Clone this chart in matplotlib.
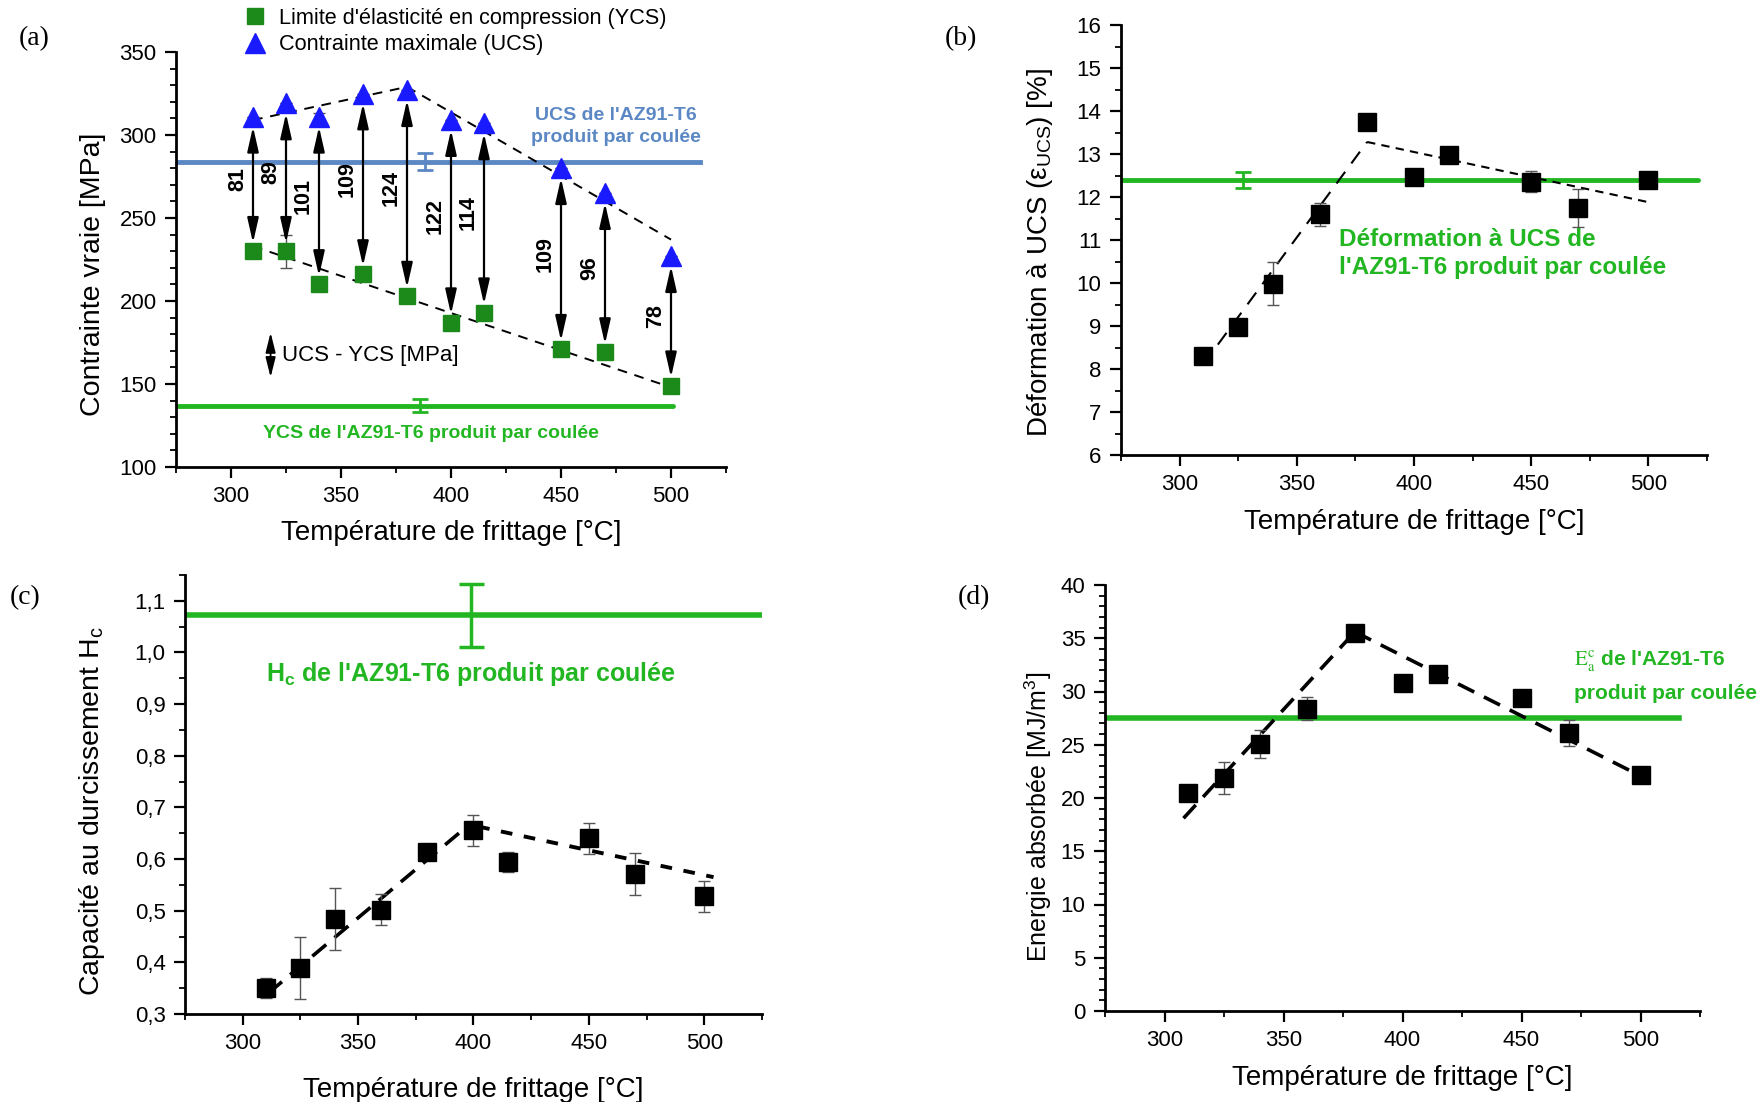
import matplotlib
matplotlib.use('Agg')
import matplotlib.pyplot as plt
from matplotlib.ticker import MultipleLocator, FuncFormatter

# ---------------- data ----------------
temps = [310, 325, 340, 360, 380, 400, 415, 450, 470, 500]

# (a) compression strengths
ucs = [311, 319, 311, 325, 327, 309, 307, 280, 265, 227]
ucs_err = [0, 0, 2, 0, 0, 0, 0, 0, 0, 0]
ycs = [230, 230, 210, 216, 203, 187, 193, 171, 169, 149]
ycs_err = [0, 10, 3, 0, 0, 0, 0, 0, 0, 0]
diff_labels = ['81', '89', '101', '109', '124', '122', '114', '109', '96', '78']
ucs_trend_x = [310, 380, 500]
ucs_trend_y = [309, 329, 237]
ycs_trend_x = [310, 500]
ycs_trend_y = [233, 148]
ucs_cast, ucs_cast_err, ucs_cast_x, ucs_cast_span = 284, 5, 388, [275, 513]
ycs_cast, ycs_cast_err, ycs_cast_x, ycs_cast_span = 137, 4, 386, [275, 501]

# (b) strain at UCS
strain = [8.3, 8.97, 9.98, 11.6, 13.75, 12.47, 12.97, 12.36, 11.74, 12.4]
strain_err = [0.05, 0.05, 0.5, 0.27, 0.05, 0.05, 0.05, 0.25, 0.44, 0.05]
strain_up_x, strain_up_y = [310, 380], [8.1, 13.28]
strain_down_x, strain_down_y = [380, 500], [13.28, 11.88]
strain_cast, strain_cast_err, strain_cast_x, strain_cast_span = 12.4, 0.19, 327, [275, 521]

# (c) hardening capacity
hc = [0.35, 0.39, 0.483, 0.502, 0.613, 0.656, 0.594, 0.640, 0.571, 0.528]
hc_err = [0.019, 0.06, 0.06, 0.03, 0.01, 0.03, 0.02, 0.03, 0.04, 0.03]
hc_up_x, hc_up_y = [311, 395], [0.34, 0.655]
hc_down_x, hc_down_y = [402, 504], [0.663, 0.565]
hc_cast, hc_cast_err, hc_cast_x, hc_cast_span = 1.072, 0.061, 399, [275, 525]

# (d) absorbed energy
energy = [20.5, 21.9, 25.1, 28.4, 35.45, 30.8, 31.65, 29.35, 26.1, 22.15]
energy_err = [0.2, 1.5, 1.33, 1.05, 0.2, 0.2, 0.2, 0.2, 1.2, 0.2]
en_up_x, en_up_y = [308, 380], [18.1, 35.6]
en_down_x, en_down_y = [380, 498], [35.6, 22.3]
en_cast, en_cast_span = 27.55, [275, 516]

# ---------------- style ----------------
NARROW = ['Liberation Sans Narrow', 'Liberation Sans', 'DejaVu Sans']
SANS = ['Liberation Sans', 'DejaVu Sans']
SERIF = ['Liberation Serif', 'DejaVu Serif']
plt.rcParams['font.family'] = NARROW
plt.rcParams['mathtext.fontset'] = 'custom'
plt.rcParams['mathtext.rm'] = 'Liberation Sans'
plt.rcParams['mathtext.it'] = 'Liberation Sans:italic'
plt.rcParams['mathtext.bf'] = 'Liberation Sans:bold'

GREEN = '#22b722'
DKGREEN = '#1b8a1b'
BLUE_LINE = '#5b88c4'
BLUE_TRI = '#1a1aff'

fig = plt.figure(figsize=(17.62, 11.02), dpi=100)
W, H = 1762, 1102


def axes_px(left, right, top, bottom):
    return fig.add_axes([left / W, 1 - bottom / H, (right - left) / W, (bottom - top) / H])


def style_axes(ax, ymaj, ymin, xpad):
    for s in ['top', 'right']:
        ax.spines[s].set_visible(False)
    for s in ['left', 'bottom']:
        ax.spines[s].set_linewidth(2.0)
    ax.set_xlim(275, 525)
    ax.xaxis.set_major_locator(MultipleLocator(50))
    ax.xaxis.set_minor_locator(MultipleLocator(25))
    ax.yaxis.set_major_locator(MultipleLocator(ymaj))
    ax.yaxis.set_minor_locator(MultipleLocator(ymin))
    ax.tick_params(which='major', direction='out', length=8, width=1.6, labelsize=16, pad=6)
    ax.tick_params(which='minor', direction='out', length=4, width=1.3)
    ax.set_xlabel('Température de frittage [°C]', fontsize=20, labelpad=xpad)


ARROW = '<|-|>,head_length=0.75,head_width=0.17'

# ---------------- (a) ----------------
axa = axes_px(176, 726, 52, 467)
style_axes(axa, 50, 10, 9)
axa.set_ylim(100, 350)
axa.set_ylabel('Contrainte vraie [MPa]', fontsize=20.5, family=SANS)
axa.yaxis.set_label_coords(-0.127, 0.465)

axa.plot(ucs_trend_x, ucs_trend_y, ls=(0, (5, 4)), color='black', lw=1.4, zorder=2)
axa.plot(ycs_trend_x, ycs_trend_y, ls=(0, (5, 4)), color='black', lw=1.4, zorder=2)

axa.plot(ucs_cast_span, [ucs_cast] * 2, color=BLUE_LINE, lw=3.5, zorder=1)
axa.errorbar([ucs_cast_x], [ucs_cast], yerr=[ucs_cast_err], color=BLUE_LINE, lw=2, capsize=6, capthick=2)
axa.plot(ycs_cast_span, [ycs_cast] * 2, color=GREEN, lw=3.5, zorder=1, solid_capstyle='round')
axa.errorbar([ycs_cast_x], [ycs_cast], yerr=[ycs_cast_err], color=GREEN, lw=2, capsize=6, capthick=2)

axa.errorbar(temps, ycs, yerr=ycs_err, fmt='none', ecolor='#555555', elinewidth=1, capsize=4, zorder=3)
axa.errorbar(temps, ucs, yerr=ucs_err, fmt='none', ecolor='#555555', elinewidth=1, capsize=4, zorder=3)
sq = axa.plot(temps, ycs, 's', color=DKGREEN, ms=11, mec=DKGREEN, zorder=5,
              label="Limite d'élasticité en compression (YCS)")[0]
tr = axa.plot(temps, ucs, '^', color=BLUE_TRI, ms=14, mec=BLUE_TRI, zorder=5,
              label='Contrainte maximale (UCS)')[0]

for t, u, y, lab in zip(temps, ucs, ycs, diff_labels):
    axa.annotate('', xy=(t, y + 5), xytext=(t, u - 6),
                 arrowprops=dict(arrowstyle=ARROW, color='black',
                                 lw=1.6, shrinkA=0, shrinkB=0, mutation_scale=20), zorder=4)
    axa.text(t - 7, (u + y) / 2 + 3, lab, rotation=90, ha='center', va='center',
             fontsize=15.5, fontweight='bold', family=SANS)

axa.annotate('', xy=(318, 154), xytext=(318, 181),
             arrowprops=dict(arrowstyle='<|-|>,head_length=0.6,head_width=0.15', color='black',
                             lw=1.3, shrinkA=0, shrinkB=0, mutation_scale=20))
axa.text(323, 167, 'UCS - YCS [MPa]', fontsize=16, va='center', ha='left')

axa.text(475, 305, "UCS de l'AZ91-T6\nproduit par coulée", color=BLUE_LINE, fontsize=14,
         fontweight='bold', ha='center', va='center', linespacing=1.35)
axa.text(391, 120, "YCS de l'AZ91-T6 produit par coulée", color=GREEN, fontsize=14,
         fontweight='bold', ha='center', va='center')

axa.legend(handles=[sq, tr], loc='lower left', bbox_to_anchor=(0.10, 0.966), frameon=False,
           fontsize=15.6, handletextpad=0.5, labelspacing=0.25, borderpad=0, handlelength=1.2)

# ---------------- (b) ----------------
axb = axes_px(1121, 1707, 25, 455)
style_axes(axb, 1, 0.5, 10)
axb.set_ylim(6, 16)
axb.set_ylabel(r'Déformation à UCS ($\mathrm{\varepsilon_{UCS}}$) [%]', fontsize=20, family=SANS)
axb.yaxis.set_label_coords(-0.113, 0.47)
axb.plot(strain_cast_span, [strain_cast] * 2, color=GREEN, lw=3.5, zorder=1, solid_capstyle='round')
axb.errorbar([strain_cast_x], [strain_cast], yerr=[strain_cast_err], color=GREEN, lw=2, capsize=6, capthick=2)
axb.plot(strain_up_x, strain_up_y, ls=(0, (7, 5)), color='black', lw=1.5, zorder=2)
axb.plot(strain_down_x, strain_down_y, ls=(0, (4, 3)), color='black', lw=1.5, zorder=2)
axb.errorbar(temps, strain, yerr=strain_err, fmt='none', ecolor='#555555', elinewidth=1, capsize=4, zorder=3)
axb.plot(temps, strain, 's', color='black', ms=13, zorder=5)
axb.text(368, 10.68, "Déformation à UCS de\nl'AZ91-T6 produit par coulée", color=GREEN, fontsize=17.5,
         fontweight='bold', ha='left', va='center', linespacing=1.3)

# ---------------- (c) ----------------
axc = axes_px(185, 762, 575, 1014)
style_axes(axc, 0.1, 0.05, 16)
axc.set_ylim(0.3, 1.15)
axc.yaxis.set_major_formatter(FuncFormatter(lambda v, p: f'{v:.1f}'.replace('.', ',')))
axc.set_ylabel(r'Capacité au durcissement H$_\mathrm{c}$', fontsize=20.5, family=SANS)
axc.yaxis.set_label_coords(-0.136, 0.463)
axc.plot(hc_cast_span, [hc_cast] * 2, color=GREEN, lw=4, zorder=1, solid_capstyle='round')
axc.errorbar([hc_cast_x], [hc_cast], yerr=[hc_cast_err], color=GREEN, lw=2.5, capsize=9, capthick=2.5)
axc.text(hc_cast_x, 0.958, r"H$_\mathbf{c}$ de l'AZ91-T6 produit par coulée", color=GREEN, fontsize=18,
         fontweight='bold', ha='center', va='center')
axc.plot(hc_up_x, hc_up_y, ls=(0, (5, 3)), color='black', lw=2.6, zorder=2)
axc.plot(hc_down_x, hc_down_y, ls=(0, (3, 3)), color='black', lw=2.8, zorder=2)
axc.errorbar(temps, hc, yerr=hc_err, fmt='none', ecolor='#555555', elinewidth=1, capsize=4, zorder=3)
axc.plot(temps, hc, 's', color='black', ms=13, zorder=5)

# ---------------- (d) ----------------
axd = axes_px(1105, 1700, 585, 1011)
style_axes(axd, 5, 1, 10)
axd.set_ylim(0, 40)
axd.set_ylabel(r'Energie absorbée [MJ/m$^3$]', fontsize=18, family=SANS)
axd.yaxis.set_label_coords(-0.086, 0.456)
axd.plot(en_cast_span, [en_cast] * 2, color=GREEN, lw=4, zorder=1)
axd.plot(en_up_x, en_up_y, ls=(0, (5, 3)), color='black', lw=2.6, zorder=2)
axd.plot(en_down_x, en_down_y, ls=(0, (5, 3)), color='black', lw=2.6, zorder=2)
axd.errorbar(temps, energy, yerr=energy_err, fmt='none', ecolor='#555555', elinewidth=1, capsize=4, zorder=3)
axd.plot(temps, energy, 's', color='black', ms=13, zorder=5)
axd.text(472, 32.9, r"$\mathrm{E_a^c}$ de l'AZ91-T6", color=GREEN, fontsize=15,
         fontweight='bold', ha='left', va='center', math_fontfamily='stix')
axd.text(472, 29.8, "produit par coulée", color=GREEN, fontsize=15,
         fontweight='bold', ha='left', va='center')

# panel letters
for lab, x, y in [('(a)', 34, 39), ('(b)', 961, 39), ('(c)', 25, 598), ('(d)', 974, 598)]:
    fig.text(x / W, 1 - y / H, lab, fontsize=20, family=SERIF, ha='center', va='center')

fig.savefig('out.png', dpi=100)
